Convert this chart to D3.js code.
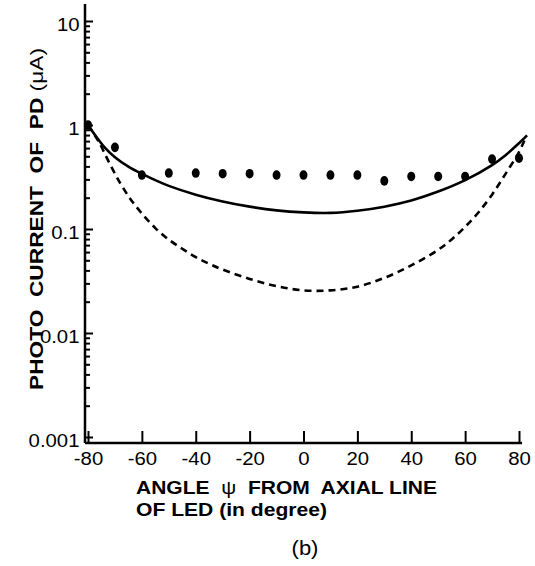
<!DOCTYPE html>
<html>
<head>
<meta charset="utf-8">
<script src="https://cdn.jsdelivr.net/npm/d3@7"></script>
<style>
    body{margin:0;background:#fff;}
    svg text{font-family:"Liberation Sans",Arial,Helvetica,sans-serif;fill:#000;}
    svg text.title{white-space:pre;}
</style>
</head>
<body>
<svg id="chart" width="535" height="566"></svg>
<script>
    // measured points (angle in degree, photo current in uA)
    var dotAngle   = [-80,-70,-60,-50,-40,-30,-20,-10,0,10,20,30,40,50,60,70,80];
    var dotCurrent = [1.0,0.61,0.33,0.345,0.345,0.34,0.34,0.33,0.33,0.33,0.33,0.29,0.32,0.32,0.32,0.47,0.48];

    // solid calculated curve
    var fitAngle   = [-80,-77,-74,-70,-65,-60,-55,-50,-40,-30,-20,-10,0,10,20,30,40,50,60,70,75,80,83];
    var fitCurrent = [1.0,0.776,0.617,0.49,0.398,0.339,0.295,0.26,0.214,0.184,0.164,0.151,0.1445,0.143,0.15,0.164,0.188,0.229,0.295,0.412,0.513,0.668,0.794];

    // dashed calculated curve
    var dashAngle   = [-80,-76,-72,-68,-64,-60,-55,-50,-45,-40,-35,-30,-20,-10,0,10,20,30,40,50,55,60,65,70,75,80,82];
    var dashCurrent = [1.0,0.69,0.427,0.275,0.19,0.141,0.102,0.079,0.0646,0.0537,0.0462,0.0407,0.0331,0.0282,0.0257,0.0257,0.0279,0.0339,0.0447,0.0631,0.0794,0.105,0.145,0.214,0.339,0.55,0.71];

    var angleTicks = [-80,-60,-40,-20,0,20,40,60,80];
    var currentTicks = [0.001,0.01,0.1,1,10];
    var currentTickLabels = ["0.001","0.01","0.1","1","10"];

    var AXIS_LEFT = 85;   //px
    var AXIS_BOTTOM = 443; //px
    var AXIS_TOP = 4;
    var AXIS_RIGHT = 522;
    var FONT = 18.5;
    var STRETCH = 1.1; // the original lettering is wide

    var svg = d3.select("#chart");

    var x = d3.scaleLinear().domain([-80,80]).range([88,519]);
    var y = d3.scaleLog().domain([0.001,10]).range([437,21]);

    // minor ticks 2..9 in every decade
    var minorTicks = [];
    currentTicks.slice(0,-1).forEach(function(d){
        for(var k=2;k<10;k++) minorTicks.push(d*k);
    });

    var yAxis = d3.axisLeft(y)
        .tickValues(currentTicks)
        .tickFormat(function(d,i){return currentTickLabels[i]})
        .tickSizeInner(-8)
        .tickSizeOuter(0)
        .tickPadding(5);
    var yMinor = d3.axisLeft(y)
        .tickValues(minorTicks)
        .tickFormat("")
        .tickSizeInner(-5)
        .tickSizeOuter(0);
    var xAxis = d3.axisBottom(x)
        .tickValues(angleTicks)
        .tickFormat(function(d){return String(d)})
        .tickSizeInner(-12)
        .tickSizeOuter(0)
        .tickPadding(9);

    var gy = svg.append("g").attr("transform","translate("+AXIS_LEFT+",0)").call(yAxis);
    var gm = svg.append("g").attr("transform","translate("+AXIS_LEFT+",0)").call(yMinor);
    var gx = svg.append("g").attr("transform","translate(0,"+AXIS_BOTTOM+")").call(xAxis);

    [gy,gm,gx].forEach(function(g){
        g.attr("font-size",null).attr("font-family",null);
        g.select(".domain").remove();
        g.selectAll(".tick line").attr("stroke","#000").attr("stroke-width",2);
        g.selectAll("text")
            .style("font-size",FONT+"px")
            .attr("transform","scale("+STRETCH+",1)");
    });
    gy.selectAll("text").attr("dy","0.5em");
    gx.selectAll("text").attr("dy","0.7em");

    // axis lines
    svg.append("line")
        .attr("x1",AXIS_LEFT).attr("x2",AXIS_LEFT)
        .attr("y1",AXIS_TOP).attr("y2",AXIS_BOTTOM)
        .attr("stroke","#000").attr("stroke-width",2.5);
    svg.append("line")
        .attr("x1",AXIS_LEFT).attr("x2",AXIS_RIGHT)
        .attr("y1",AXIS_BOTTOM).attr("y2",AXIS_BOTTOM)
        .attr("stroke","#000").attr("stroke-width",2.5);

    var line = d3.line()
        .x(function(d){return x(d[0])})
        .y(function(d){return y(d[1])})
        .curve(d3.curveCatmullRom.alpha(0.5));

    svg.append("path")
        .attr("class","fit")
        .attr("d",line(d3.zip(fitAngle,fitCurrent)))
        .attr("fill","none").attr("stroke","#000").attr("stroke-width",2.6);

    svg.append("path")
        .attr("class","dash")
        .attr("d",line(d3.zip(dashAngle,dashCurrent)))
        .attr("fill","none").attr("stroke","#000").attr("stroke-width",2.6)
        .attr("stroke-dasharray","7,5");

    svg.append("g").selectAll("ellipse")
        .data(d3.zip(dotAngle,dotCurrent))
        .enter().append("ellipse")
        .attr("cx",function(d){return x(d[0])})
        .attr("cy",function(d){return y(d[1])})
        .attr("rx",4)
        .attr("ry",4.8)
        .attr("fill","#000");

    // titles
    var yt = svg.append("text")
        .attr("class","title")
        .attr("transform","translate(43,219) rotate(-90)")
        .attr("text-anchor","middle")
        .attr("textLength",342)
        .attr("lengthAdjust","spacingAndGlyphs")
        .style("font-size","18.5px")
        .style("font-weight","bold");
    yt.append("tspan").text("PHOTO  CURRENT  OF  PD ");
    yt.append("tspan").style("font-weight","normal").text("(\u03bcA)");

    var xt = svg.append("text")
        .attr("class","title")
        .attr("x",136).attr("y",494)
        .attr("textLength",301)
        .attr("lengthAdjust","spacingAndGlyphs")
        .style("font-size","18px")
        .style("font-weight","bold");
    xt.append("tspan").text("ANGLE  ");
    xt.append("tspan").style("font-weight","normal").text("\u03c8");
    xt.append("tspan").text("  FROM  AXIAL LINE");

    svg.append("text")
        .attr("class","title")
        .attr("x",136).attr("y",516)
        .attr("textLength",191)
        .attr("lengthAdjust","spacingAndGlyphs")
        .style("font-size","18px")
        .style("font-weight","bold")
        .text("OF LED (in degree)");

    svg.append("text")
        .attr("transform","translate(305,555) scale(1.1,1)")
        .attr("text-anchor","middle")
        .style("font-size","20px")
        .text("(b)");
</script>
</body>
</html>
